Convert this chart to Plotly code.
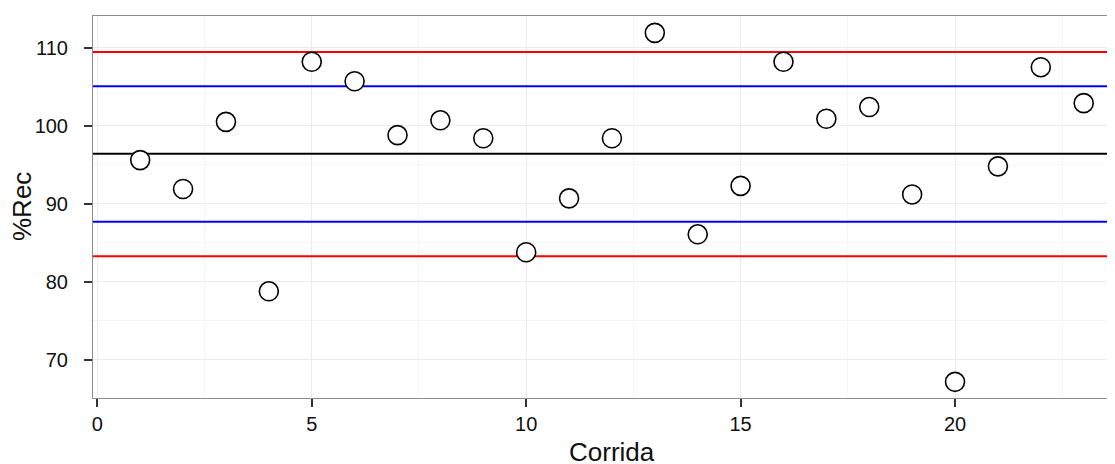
import plotly.graph_objects as go

corrida = list(range(1, 24))
rec = [95.6, 91.9, 100.5, 78.8, 108.2, 105.7, 98.8, 100.7, 98.4, 83.8, 90.7, 98.4,
       111.9, 86.1, 92.3, 108.2, 100.9, 102.4, 91.2, 67.2, 94.8, 107.5, 102.9]

center_line = [96.4]
blue_lines = [105.05, 87.7]
red_lines = [109.45, 83.3]

x_ticks = [0, 5, 10, 15, 20]
y_ticks = [70, 80, 90, 100, 110]

x_range = [-0.1, 23.73]
y_range = [65.13, 114.06]

fig = go.Figure()

for values, color in ((red_lines, "#ff0000"), (blue_lines, "#0000ff"), (center_line, "#000000")):
    for yv in values:
        fig.add_trace(go.Scatter(
            x=x_range, y=[yv, yv], mode="lines",
            line=dict(color=color, width=2), showlegend=False, hoverinfo="skip",
        ))

fig.add_trace(go.Scatter(
    x=corrida, y=rec, mode="markers",
    marker=dict(symbol="circle", size=19, color="white",
                line=dict(color="black", width=1.6)),
    showlegend=False, cliponaxis=False,
))

fig.update_layout(
    width=1107, height=456,
    margin=dict(l=85, r=0, t=8, b=66),
    paper_bgcolor="white", plot_bgcolor="white",
    font=dict(family="Liberation Sans, Arial, sans-serif", color="#111111"),
    showlegend=False,
)

fig.update_xaxes(
    range=x_range, tickvals=x_ticks, ticktext=[str(v) for v in x_ticks],
    showgrid=True, gridcolor="#ebebeb", gridwidth=1,
    minor=dict(dtick=2.5, tick0=0, showgrid=True, gridcolor="#f5f5f5", gridwidth=1, ticks=""),
    zeroline=False, showline=True, linecolor="#8c8c8c", linewidth=1, mirror=True,
    ticks="outside", ticklen=8, tickwidth=1.5, tickcolor="#333333",
    tickfont=dict(size=20, color="#111111"),
    ticklabelstandoff=0,
)
fig.update_yaxes(
    range=y_range, tickvals=y_ticks, ticktext=[str(v) for v in y_ticks],
    showgrid=True, gridcolor="#ebebeb", gridwidth=1,
    minor=dict(dtick=5, tick0=65, showgrid=True, gridcolor="#f5f5f5", gridwidth=1, ticks=""),
    zeroline=False, showline=True, linecolor="#8c8c8c", linewidth=1, mirror=False,
    ticks="outside", ticklen=8, tickwidth=1.5, tickcolor="#333333",
    tickfont=dict(size=20, color="#111111"),
    ticklabelstandoff=12,
)

fig.add_annotation(text="Corrida", xref="paper", yref="paper",
                   x=0.508, y=-(452 - 398) / 382, xanchor="center", yanchor="middle",
                   showarrow=False, font=dict(size=26, color="#111111"))
fig.add_annotation(text="%Rec", xref="paper", yref="paper",
                   x=-(93 - 22) / 1022, y=0.5, xanchor="center", yanchor="middle",
                   textangle=-90, showarrow=False, font=dict(size=26, color="#111111"))

fig.write_html("out.html")
